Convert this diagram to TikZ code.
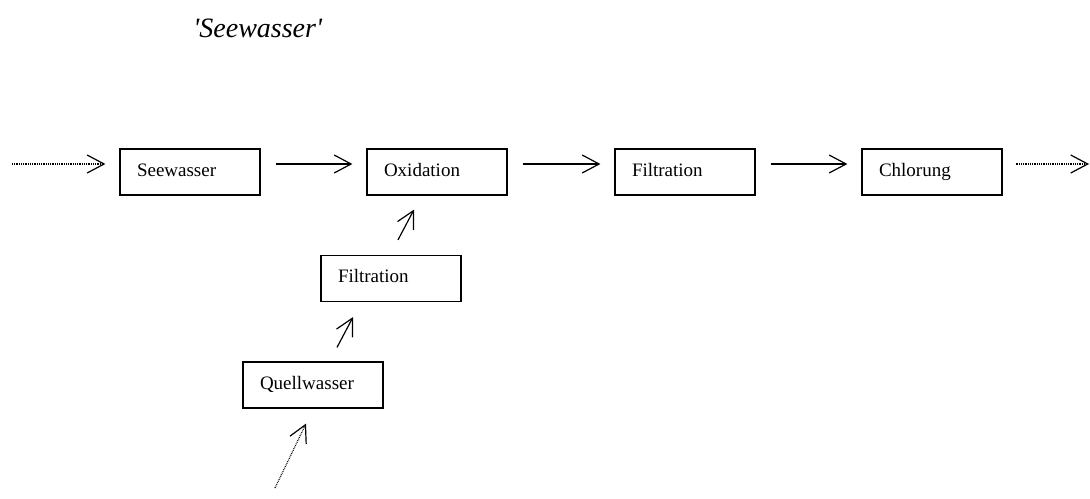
\documentclass[tikz,border=0pt]{standalone}
\usepackage{fontspec}
\setmainfont{Liberation Serif}
\usetikzlibrary{arrows.meta,calc}
\begin{document}
\begin{tikzpicture}[x=0.5pt,y=-0.5pt,
  box/.style={draw,line width=0.6pt,minimum width=70pt,minimum height=23pt,text width=53pt,align=left,inner xsep=8.5pt,inner ysep=0pt,text height=6.5pt,text depth=2.5pt,font=\fontsize{9.5}{11}\selectfont},
  arr/.style={line width=0.6pt,-{Straight Barb[length=8.5pt,width=9pt,line width=0.6pt]}},
  dotarr/.style={arr,dash pattern=on 0.4pt off 0.5pt}]
\useasboundingbox (0,0) rectangle (1090,498);
\node[anchor=west,font=\fontsize{14}{16}\selectfont\itshape,inner sep=0pt] (title) at (193,28) {\textquotesingle Seewasser\textquotesingle};
\node[box] (see) at (190,172) {Seewasser};
\node[box] (oxi) at (437,172) {Oxidation};
\node[box] (fil) at (685,172) {Filtration};
\node[box] (chl) at (932,172) {Chlorung};
\node[box] (fil2) at (391,278.5) {Filtration};
\node[box] (que) at (313,385) {Quellwasser};
\coordinate (in) at (12,164);
\coordinate (out) at (1089,164);
\coordinate (qin) at (275,488);
\draw[dotarr] (in) -- ($(see.west)+(-14,-8)$);
\draw[arr] ($(see.east)+(15,-8)$) -- ($(oxi.west)+(-14,-8)$);
\draw[arr] ($(oxi.east)+(15,-8)$) -- ($(fil.west)+(-14,-8)$);
\draw[arr] ($(fil.east)+(15,-8)$) -- ($(chl.west)+(-14,-8)$);
\draw[dotarr] ($(chl.east)+(13,-8)$) -- (out);
\draw[arr] ($(fil2.north)+(7,-15)$) -- ($(oxi.south)+(-23,14)$);
\draw[arr] ($(que.north)+(24,-14)$) -- ($(fil2.south)+(-38,15)$);
\draw[dotarr] (qin) -- ($(que.south)+(-7,15)$);
\end{tikzpicture}
\end{document}
